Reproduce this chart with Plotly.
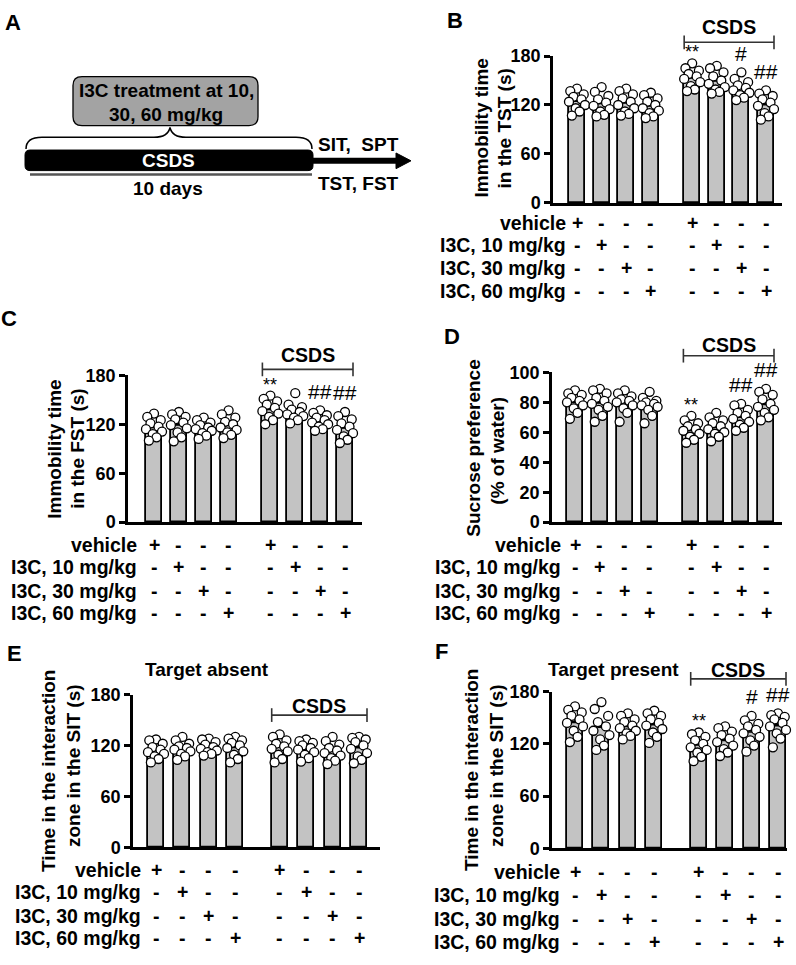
import plotly.graph_objects as go

W, H = 796, 965

# ---------------- DATA ----------------
ROW_LABELS = ["vehicle", "I3C, 10 mg/kg", "I3C, 30 mg/kg", "I3C, 60 mg/kg"]
TREATMENT = [0, 1, 2, 3, 0, 1, 2, 3]  # which row gets "+" for each bar
POS = [0, 1, 2, 3, 4.68, 5.68, 6.68, 7.68]

TST_MEAN = [124.6, 121.9, 122.6, 118.8, 153.0, 149.5, 140.5, 120.5]
TST_SEM = [3.3, 3.8, 3.4, 3.2, 3.6, 3.7, 3.3, 3.6]
TST_DOTS = [
    [140, 137, 133, 130, 127, 124, 120, 116, 112, 107],
    [142, 136, 131, 127, 123, 119, 115, 112, 108, 106],
    [140, 137, 133, 128, 124, 120, 116, 112, 109, 107],
    [135, 132, 128, 124, 120, 116, 113, 110, 106, 104],
    [171, 165, 162, 158, 155, 152, 148, 143, 139, 137],
    [168, 165, 160, 155, 150, 146, 142, 139, 136, 134],
    [160, 152, 148, 144, 141, 138, 135, 132, 129, 126],
    [138, 134, 131, 127, 123, 119, 115, 110, 106, 102],
]
TST_SIG = ["", "", "", "", "**", "", "#", "##"]

FST_MEAN = [116.2, 119.1, 115.3, 118.9, 138.1, 135.2, 124.0, 115.4]
FST_SEM = [3.3, 3.9, 2.6, 3.3, 3.4, 3.3, 2.6, 3.8]
FST_DOTS = [
    [133, 129, 125, 121, 117, 114, 111, 108, 104, 100],
    [135, 132, 129, 126, 122, 119, 115, 110, 104, 99],
    [128, 125, 122, 119, 116, 114, 112, 109, 106, 102],
    [137, 132, 128, 123, 120, 116, 113, 110, 107, 103],
    [155, 151, 148, 144, 140, 136, 133, 129, 125, 120],
    [158, 144, 141, 138, 135, 132, 130, 128, 125, 121],
    [137, 134, 131, 128, 125, 122, 120, 117, 114, 112],
    [135, 130, 126, 121, 117, 113, 109, 105, 101, 97],
]
FST_SIG = ["", "", "", "", "**", "", "##", "##"]

SPT_MEAN = [79.9, 79.6, 79.5, 77.7, 61.6, 63.3, 70.1, 78.5]
SPT_SEM = [1.9, 2.2, 2.0, 1.9, 1.8, 1.8, 1.9, 2.2]
SPT_DOTS = [
    [88, 86, 85, 83, 81, 80, 78, 76, 73, 69],
    [89, 88, 86, 83, 81, 79, 77, 75, 71, 67],
    [88, 86, 84, 82, 81, 80, 78, 76, 73, 67],
    [87, 83, 81, 80, 79, 78, 77, 75, 71, 66],
    [71, 68, 66, 64, 62, 61, 59, 57, 55, 53],
    [73, 70, 68, 66, 64, 62, 60, 59, 57, 54],
    [79, 78, 75, 73, 71, 69, 67, 65, 63, 61],
    [89, 87, 85, 82, 79, 77, 75, 73, 70, 68],
]
SPT_SIG = ["", "", "", "", "**", "", "##", "##"]

ABS_MEAN = [114.5, 116.4, 118.0, 117.5, 118.2, 115.8, 113.3, 117.2]
ABS_SEM = [2.8, 2.6, 2.2, 3.2, 3.3, 2.6, 3.1, 3.4]
ABS_DOTS = [
    [127, 126, 122, 118, 115, 112, 110, 107, 104, 100],
    [130, 126, 122, 119, 117, 115, 113, 110, 107, 103],
    [128, 127, 124, 121, 118, 116, 114, 112, 110, 108],
    [130, 128, 126, 123, 120, 117, 113, 109, 104, 100],
    [133, 130, 126, 122, 119, 116, 113, 109, 104, 100],
    [127, 125, 123, 120, 117, 115, 112, 109, 105, 101],
    [130, 125, 121, 117, 114, 111, 108, 105, 102, 98],
    [130, 129, 127, 124, 120, 116, 111, 107, 103, 99],
]
ABS_SIG = [""] * 8

PRE_MEAN = [144.5, 139.0, 140.0, 142.0, 118.8, 123.8, 133.5, 140.8]
PRE_SEM = [4.2, 5.4, 3.0, 3.6, 3.4, 3.6, 4.0, 3.8]
PRE_DOTS = [
    [163, 159, 156, 152, 148, 144, 140, 135, 128, 122],
    [168, 160, 152, 145, 140, 135, 130, 125, 118, 113],
    [155, 152, 148, 145, 141, 138, 135, 132, 129, 125],
    [158, 155, 152, 148, 144, 141, 137, 133, 128, 121],
    [133, 131, 128, 124, 120, 116, 113, 110, 105, 100],
    [140, 138, 134, 130, 126, 122, 118, 114, 110, 106],
    [152, 147, 143, 140, 136, 132, 128, 124, 118, 111],
    [155, 153, 151, 148, 144, 140, 136, 132, 126, 116],
]
PRE_SIG = ["", "", "", "", "**", "", "#", "##"]

YTICKS_180 = [0, 60, 120, 180]
YTICKS_100 = [0, 20, 40, 60, 80, 100]

# ---------------- STYLE / LAYOUT ----------------
FONT = "Liberation Sans, Arial, sans-serif"
BAR_FILL = "#c3c3c3"
JITTER = [0.0, -0.42, 0.42, -0.22, 0.28, -0.5, 0.5, -0.08, 0.16, -0.32]


def X(px):
    return px / W


def Y(py):
    return 1 - py / H


def pt(x, y):
    return f"{X(x):.5f},{Y(y):.5f}"


panels = [
    dict(letter="B", lx=455, ly=11, mean=TST_MEAN, sem=TST_SEM, dots=TST_DOTS, sig=TST_SIG,
         ymax=180, ticks=YTICKS_180, x0=553, x1=782, c1=577, c8=766, ytop=47, ybot=197,
         ylab=["Immobility time", "in the TST (s)"], ylx=[481, 504], yly=[121, 121],
         rows=[217, 240, 263, 287], redge=568, bry=33, csy=17, title=None),
    dict(letter="C", lx=9, ly=315, mean=FST_MEAN, sem=FST_SEM, dots=FST_DOTS, sig=FST_SIG,
         ymax=180, ticks=YTICKS_180, x0=128, x1=362, c1=154, c8=345, ytop=373, ybot=523,
         ylab=["Immobility time", "in the FST (s)"], ylx=[55, 78], yly=[448, 448],
         rows=[546, 569, 593, 616], redge=139, bry=367, csy=352, title=None),
    dict(letter="D", lx=452, ly=333, mean=SPT_MEAN, sem=SPT_SEM, dots=SPT_DOTS, sig=SPT_SIG,
         ymax=100, ticks=YTICKS_100, x0=552, x1=782, c1=575, c8=766, ytop=370, ybot=523,
         ylab=["Sucrose preference", "(% of water)"], ylx=[474, 498], yly=[448, 450],
         rows=[546, 569, 593, 616], redge=563, bry=353, csy=342, title=None),
    dict(letter="E", lx=15, ly=657, mean=ABS_MEAN, sem=ABS_SEM, dots=ABS_DOTS, sig=ABS_SIG,
         ymax=180, ticks=YTICKS_180, x0=133, x1=380, c1=156, c8=359, ytop=699, ybot=855,
         ylab=["Time in the interaction", "zone in the SIT (s)"], ylx=[49, 73], yly=[777, 772],
         rows=[878, 901, 925, 948], redge=143, bry=720, csy=711,
         title=("Target absent", 207, 673)),
    dict(letter="F", lx=441, ly=655, mean=PRE_MEAN, sem=PRE_SEM, dots=PRE_DOTS, sig=PRE_SIG,
         ymax=180, ticks=YTICKS_180, x0=552, x1=787, c1=575, c8=778, ytop=696, ybot=856,
         ylab=["Time in the interaction", "zone in the SIT (s)"], ylx=[472, 496], yly=[776, 772],
         rows=[880, 904, 928, 952], redge=562, bry=683, csy=674,
         title=("Target present", 613, 673)),
]

fig = go.Figure()
annotations = []
shapes = []
layout = {}

for i, p in enumerate(panels):
    n = i + 1
    xa = "x" if n == 1 else f"x{n}"
    ya = "y" if n == 1 else f"y{n}"
    s = (p["c8"] - p["c1"]) / POS[-1]
    bw = 16.0 / s
    xr = [(p["x0"] - p["c1"]) / s, (p["x1"] - p["c1"]) / s]

    fig.add_trace(go.Bar(
        x=POS, y=p["mean"], width=bw, xaxis=xa, yaxis=ya,
        marker=dict(color=BAR_FILL, line=dict(color="black", width=1.8)),
        error_y=dict(type="data", symmetric=False, array=p["sem"], arrayminus=[0] * 8,
                     color="black", thickness=1.6, width=4),
        showlegend=False, hoverinfo="skip"))
    dx, dy = [], []
    for k, vals in enumerate(p["dots"]):
        for j, v in enumerate(vals):
            dx.append(POS[k] + JITTER[j % len(JITTER)] * bw)
            dy.append(v)
    fig.add_trace(go.Scatter(
        x=dx, y=dy, mode="markers", xaxis=xa, yaxis=ya, cliponaxis=False,
        marker=dict(size=9, color="white", line=dict(color="black", width=1.3)),
        showlegend=False, hoverinfo="skip"))

    kx = "xaxis" if n == 1 else f"xaxis{n}"
    ky = "yaxis" if n == 1 else f"yaxis{n}"
    layout[kx] = dict(domain=[X(p["x0"]), X(p["x1"])], range=xr, anchor=ya,
                      showline=True, linewidth=2.5, linecolor="black", ticks="",
                      showticklabels=False, showgrid=False, zeroline=False)
    layout[ky] = dict(domain=[Y(p["ybot"]), Y(p["ytop"])], range=[0, p["ymax"]], anchor=xa,
                      tickvals=p["ticks"], ticks="outside", ticklen=6, tickwidth=2.5,
                      tickcolor="black", showline=True, linewidth=2.5, linecolor="black",
                      showgrid=False, zeroline=False,
                      tickfont=dict(family=FONT, size=18, color="black", weight="bold"))

    # panel letter
    annotations.append(dict(text=p["letter"], x=X(p["lx"]), y=Y(p["ly"]), xref="paper", yref="paper",
                            showarrow=False, xanchor="center", yanchor="middle",
                            font=dict(family=FONT, size=22, color="black", weight="bold")))
    # y label lines
    for t, lxp, lyp in zip(p["ylab"], p["ylx"], p["yly"]):
        annotations.append(dict(text=t, x=X(lxp), y=Y(lyp), xref="paper", yref="paper",
                                textangle=-90, showarrow=False, xanchor="center", yanchor="middle",
                                font=dict(family=FONT, size=19, color="black", weight="bold")))
    # treatment rows
    for r, (lab, ry) in enumerate(zip(ROW_LABELS, p["rows"])):
        annotations.append(dict(text=lab, x=X(p["redge"]), y=Y(ry), xref="paper", yref="paper",
                                showarrow=False, xanchor="right", yanchor="middle",
                                font=dict(family=FONT, size=19.5, color="black", weight="bold")))
        for k in range(8):
            sym = "+" if TREATMENT[k] == r else "-"
            annotations.append(dict(text=sym, x=POS[k], y=Y(ry), xref=xa, yref="paper",
                                    showarrow=False, xanchor="center", yanchor="middle",
                                    font=dict(family=FONT, size=19.5, color="black", weight="bold")))
    # significance marks
    for k, sg in enumerate(p["sig"]):
        if sg:
            top = max(p["dots"][k])
            annotations.append(dict(text=sg, x=POS[k], y=top, xref=xa, yref=ya,
                                    showarrow=False, xanchor="center", yanchor="middle",
                                    yshift=(19 if "#" in sg else 11),
                                    font=dict(family=FONT, size=(21 if "#" in sg else 18),
                                              color="black")))
    # CSDS bracket
    bx0 = POS[4] - bw / 2
    bx1 = POS[7] + bw / 2
    shapes.append(dict(type="line", xref=xa, yref="paper", x0=bx0, x1=bx1,
                       y0=Y(p["bry"]), y1=Y(p["bry"]), line=dict(color="#333", width=1.6)))
    for bx in (bx0, bx1):
        shapes.append(dict(type="line", xref=xa, yref="paper", x0=bx, x1=bx,
                           y0=Y(p["bry"] - 7), y1=Y(p["bry"] + 7), line=dict(color="#333", width=1.6)))
    annotations.append(dict(text="CSDS", x=(bx0 + bx1) / 2, y=Y(p["csy"]), xref=xa, yref="paper",
                            showarrow=False, xanchor="center", yanchor="middle",
                            font=dict(family=FONT, size=19.5, color="black", weight="bold")))
    if p["title"]:
        t, tx, ty = p["title"]
        annotations.append(dict(text=t, x=X(tx), y=Y(ty), xref="paper", yref="paper",
                                showarrow=False, xanchor="center", yanchor="middle",
                                font=dict(family=FONT, size=19, color="black", weight="bold")))

# ---------------- PANEL A (schematic) ----------------
def rrect(x0, y0, x1, y1, r):
    return (f"M {pt(x0 + r, y0)} L {pt(x1 - r, y0)} Q {pt(x1, y0)} {pt(x1, y0 + r)} "
            f"L {pt(x1, y1 - r)} Q {pt(x1, y1)} {pt(x1 - r, y1)} L {pt(x0 + r, y1)} "
            f"Q {pt(x0, y1)} {pt(x0, y1 - r)} L {pt(x0, y0 + r)} Q {pt(x0, y0)} {pt(x0 + r, y0)} Z")


shapes.append(dict(type="path", xref="paper", yref="paper", path=rrect(73, 68, 258, 118, 9),
                   fillcolor="#a3a3a3", line=dict(color="black", width=1.3)))
brace = (f"M {pt(26, 142)} Q {pt(26, 130)} {pt(42, 130)} L {pt(154, 130)} "
         f"Q {pt(168, 130)} {pt(170, 120)} Q {pt(172, 130)} {pt(186, 130)} "
         f"L {pt(296, 130)} Q {pt(312, 130)} {pt(312, 142)}")
shapes.append(dict(type="path", xref="paper", yref="paper", path=brace,
                   line=dict(color="black", width=1.5)))
shapes.append(dict(type="path", xref="paper", yref="paper", path=rrect(25, 143, 313, 164, 5),
                   fillcolor="black", line=dict(color="black", width=1)))
shapes.append(dict(type="line", xref="paper", yref="paper", x0=X(310), x1=X(398), y0=Y(154), y1=Y(154),
                   line=dict(color="black", width=6)))
shapes.append(dict(type="path", xref="paper", yref="paper",
                   path=f"M {pt(396, 146)} L {pt(411, 154)} L {pt(396, 162)} Z",
                   fillcolor="black", line=dict(color="black", width=1)))
shapes.append(dict(type="line", xref="paper", yref="paper", x0=X(30), x1=X(312), y0=Y(168), y1=Y(168),
                   line=dict(color="#555", width=2.5)))

a_texts = [
    ("A", 13, 13, 22, "black"),
    ("I3C treatment at 10,", 166, 82, 19, "black"),
    ("30, 60 mg/kg", 166, 107, 19, "black"),
    ("CSDS", 168, 154, 19, "white"),
    ("10 days", 168, 182, 19, "black"),
    ("SIT,\u00a0\u00a0SPT", 358, 137, 19, "black"),
    ("TST, FST", 358, 177, 19, "black"),
]
for t, tx, ty, sz, col in a_texts:
    annotations.append(dict(text=t, x=X(tx), y=Y(ty), xref="paper", yref="paper",
                            showarrow=False, xanchor="center", yanchor="middle",
                            font=dict(family=FONT, size=sz, color=col, weight="bold")))

fig.update_layout(
    width=W, height=H, margin=dict(l=0, r=0, t=0, b=0),
    paper_bgcolor="white", plot_bgcolor="white",
    annotations=annotations, shapes=shapes, bargap=0, **layout)

fig.write_html("out.html", config={"displayModeBar": False},
               post_script="document.body.style.margin='0';document.body.style.overflow='hidden';")
